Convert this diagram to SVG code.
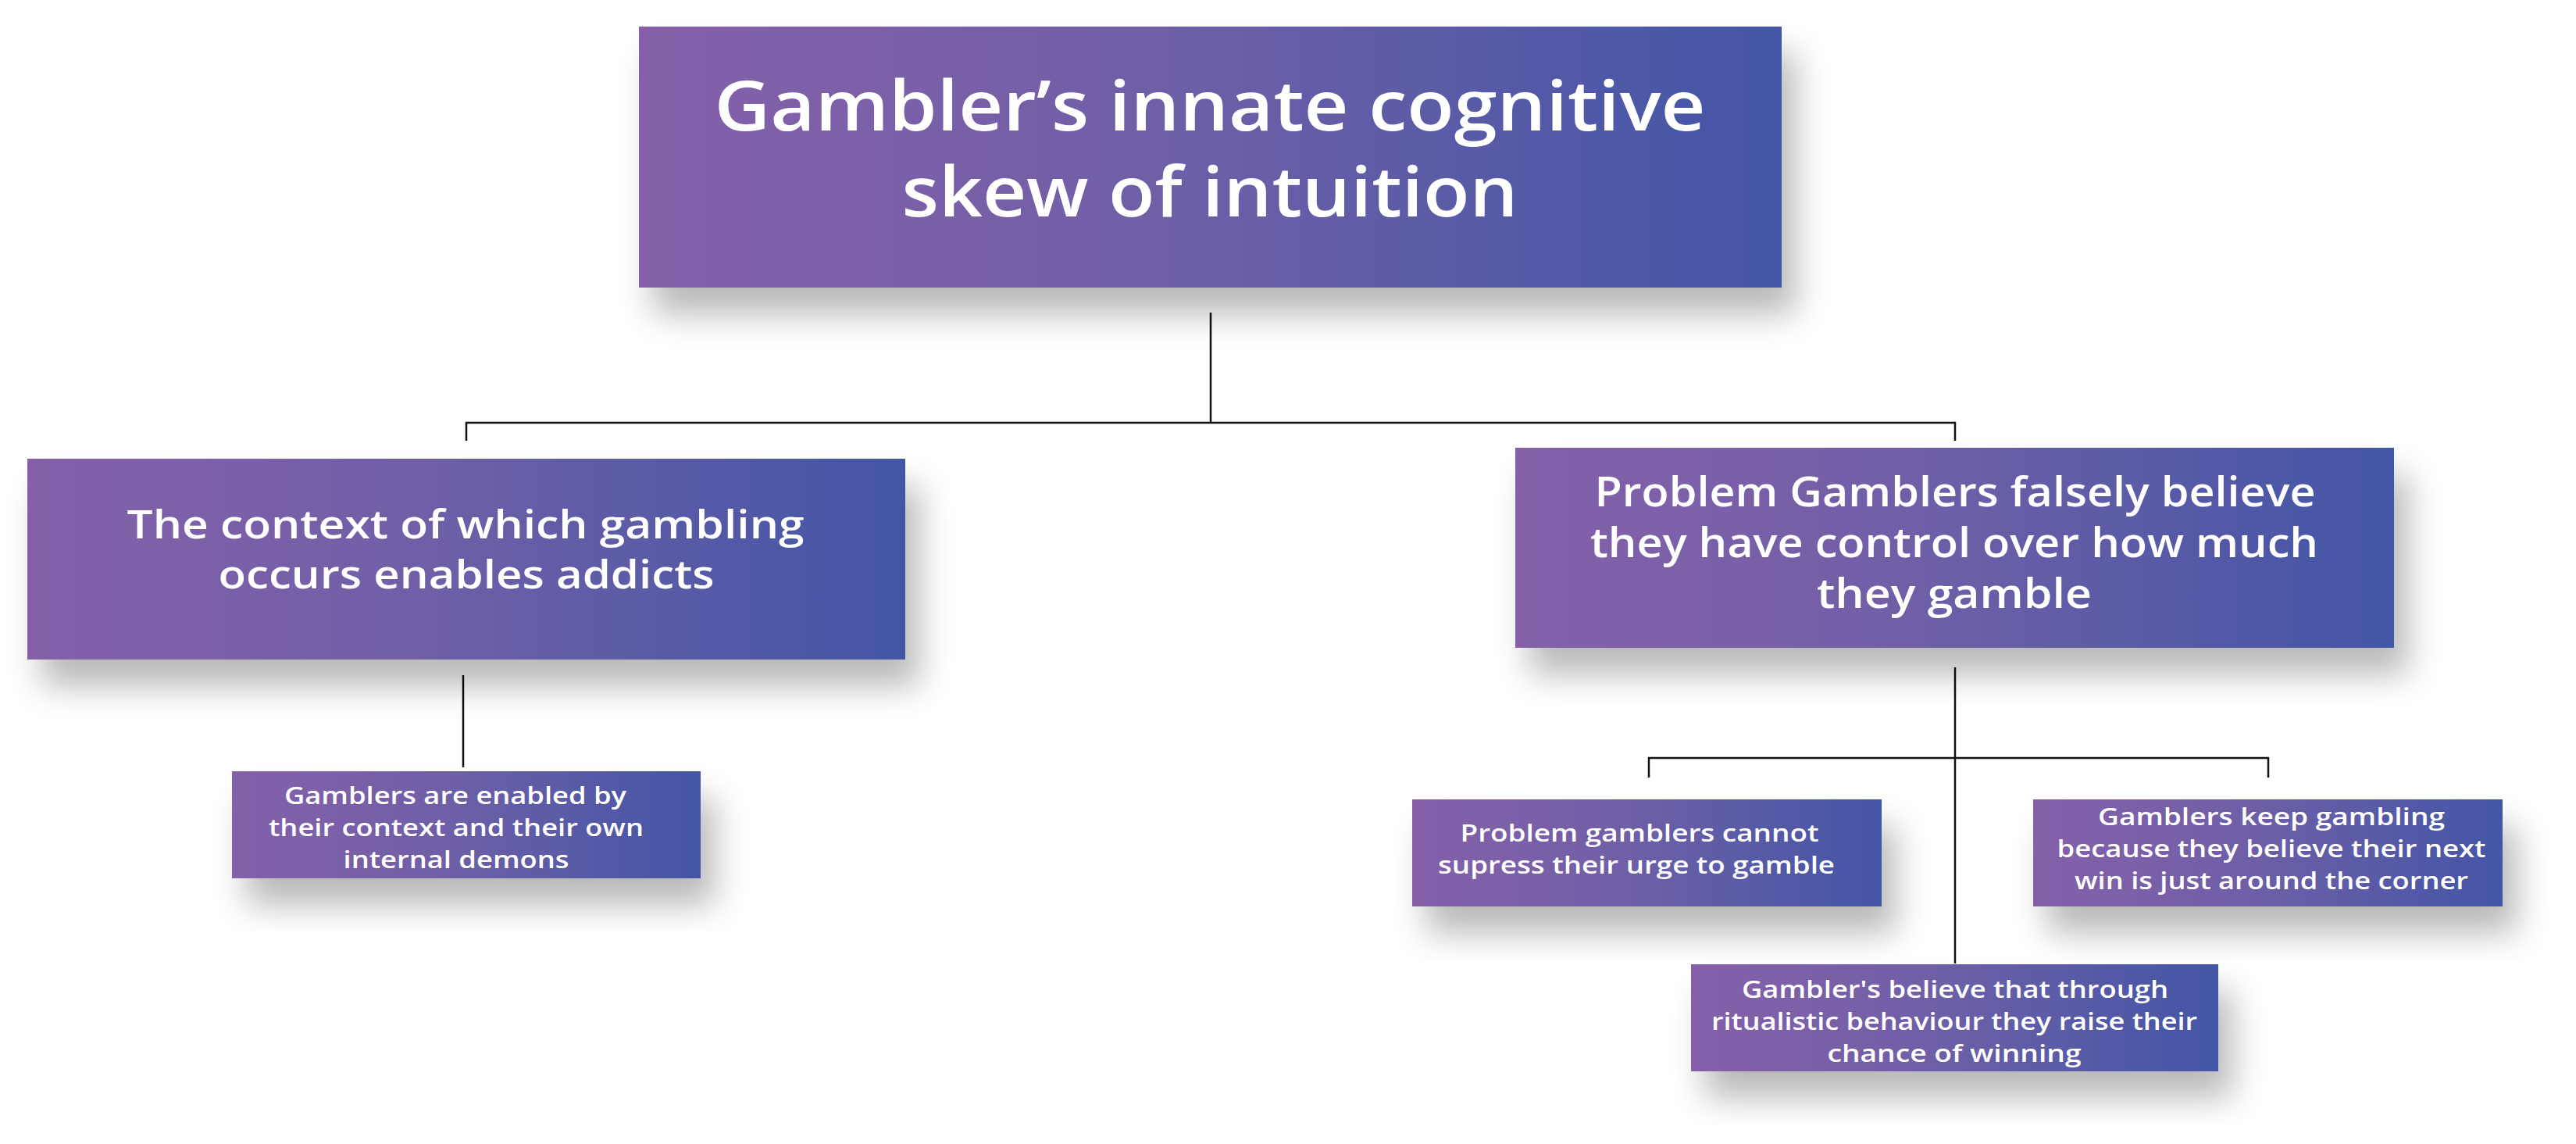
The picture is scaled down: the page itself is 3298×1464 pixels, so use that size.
<svg xmlns="http://www.w3.org/2000/svg" width="3298" height="1464" viewBox="0 0 3298 1464">
<defs>
<linearGradient id="g" x1="0" y1="0" x2="1" y2="0">
<stop offset="0" stop-color="#8561a9"/>
<stop offset="0.45" stop-color="#6f5fa7"/>
<stop offset="1" stop-color="#4356a6"/>
</linearGradient>
<filter id="sh" x="-20%" y="-30%" width="150%" height="180%">
<feGaussianBlur in="SourceAlpha" stdDeviation="22"/>
<feOffset dx="18" dy="34" result="b"/>
<feComponentTransfer><feFuncA type="linear" slope="0.28"/></feComponentTransfer>
<feMerge><feMergeNode/><feMergeNode in="SourceGraphic"/></feMerge>
</filter>
<style>
.box{fill:url(#g);filter:url(#sh)}
.t{font-family:"Open Sans","Liberation Sans",sans-serif;font-weight:600;fill:#ffffff;text-anchor:middle}
.c{stroke:#111;stroke-width:2.5;fill:none}
</style>
</defs>
<rect width="3298" height="1464" fill="#ffffff"/>
<g id="connectors">
<path class="c" d="M1550 400V541M597 564V541H2503V564"/>
<path class="c" d="M593 864V982"/>
<path class="c" d="M2503 854V1233M2111 995V970H2904V995"/>
</g>
<g id="root">
<rect class="box" x="818" y="34" width="1463" height="334"/>
<text class="t" font-size="88" x="1549" y="167" textLength="1269" lengthAdjust="spacingAndGlyphs">Gambler’s innate cognitive</text>
<text class="t" font-size="88" x="1549" y="277" textLength="789" lengthAdjust="spacingAndGlyphs">skew of intuition</text>
</g>
<g id="context">
<rect class="box" x="35" y="587" width="1124" height="257"/>
<text class="t" font-size="50" x="596" y="689" textLength="867" lengthAdjust="spacingAndGlyphs">The context of which gambling</text>
<text class="t" font-size="50" x="597" y="753" textLength="635" lengthAdjust="spacingAndGlyphs">occurs enables addicts</text>
</g>
<g id="enabled">
<rect class="box" x="297" y="987" width="600" height="137"/>
<text class="t" font-size="30"><tspan x="583" y="1029" textLength="438" lengthAdjust="spacingAndGlyphs">Gamblers are enabled by</tspan><tspan x="584" y="1070" textLength="480" lengthAdjust="spacingAndGlyphs">their context and their own</tspan><tspan x="584" y="1111" textLength="289" lengthAdjust="spacingAndGlyphs">internal demons</tspan></text>
</g>
<g id="control">
<rect class="box" x="1940" y="573" width="1125" height="256"/>
<text class="t" font-size="52"><tspan x="2503" y="648" textLength="923" lengthAdjust="spacingAndGlyphs">Problem Gamblers falsely believe</tspan><tspan x="2502" y="713" textLength="932" lengthAdjust="spacingAndGlyphs">they have control over how much</tspan><tspan x="2502" y="778" textLength="352" lengthAdjust="spacingAndGlyphs">they gamble</tspan></text>
</g>
<g id="suppress">
<rect class="box" x="1808" y="1023" width="601" height="137"/>
<text class="t" font-size="30"><tspan x="2099" y="1077" textLength="459" lengthAdjust="spacingAndGlyphs">Problem gamblers cannot</tspan><tspan x="2095" y="1118" textLength="508" lengthAdjust="spacingAndGlyphs">supress their urge to gamble</tspan></text>
</g>
<g id="keep">
<rect class="box" x="2603" y="1023" width="601" height="137"/>
<text class="t" font-size="30"><tspan x="2908" y="1056" textLength="444" lengthAdjust="spacingAndGlyphs">Gamblers keep gambling</tspan><tspan x="2908" y="1097" textLength="549" lengthAdjust="spacingAndGlyphs">because they believe their next</tspan><tspan x="2908" y="1138" textLength="504" lengthAdjust="spacingAndGlyphs">win is just around the corner</tspan></text>
</g>
<g id="ritual">
<rect class="box" x="2165" y="1234" width="675" height="137"/>
<text class="t" font-size="30"><tspan x="2503" y="1277" textLength="546" lengthAdjust="spacingAndGlyphs">Gambler's believe that through</tspan><tspan x="2502" y="1318" textLength="622" lengthAdjust="spacingAndGlyphs">ritualistic behaviour they raise their</tspan><tspan x="2502" y="1359" textLength="325" lengthAdjust="spacingAndGlyphs">chance of winning</tspan></text>
</g>
</svg>
